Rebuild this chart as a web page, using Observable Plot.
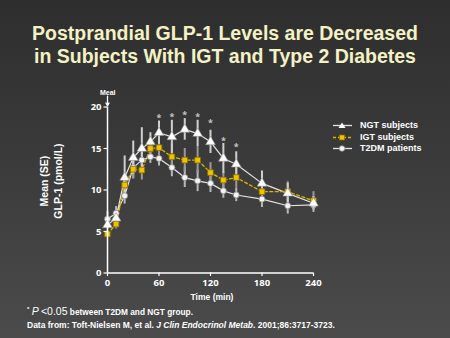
<!DOCTYPE html>
<html>
<head>
<meta charset="utf-8">
<script src="https://cdn.jsdelivr.net/npm/d3@7"></script>
<script src="https://cdn.jsdelivr.net/npm/@observablehq/plot@0.6"></script>
<style>
  html, body { margin: 0; padding: 0; }
  body {
    width: 450px; height: 338px; overflow: hidden; position: relative;
    background: linear-gradient(to bottom, #2e2e2e 0%, #3a3a3a 45%, #4b4b4b 100%);
    font-family: "Liberation Sans", Arial, sans-serif; color: #fff;
  }
  .abs { position: absolute; white-space: nowrap; }
  #title { top: 22px; left: 0; width: 450px; text-align: center; font-weight: bold;
    font-size: 19.5px; line-height: 23px; color: #f4f2c4; }
  #chart { position: absolute; top: 80px; left: 0; }
  #ylab { left: 51px; top: 181px; transform: translate(-50%, -50%) rotate(-90deg);
    text-align: center; font-weight: bold; font-size: 10.5px; line-height: 14px; }
  #xlab { left: 212px; top: 292px; transform: translateX(-50%); font-weight: bold; font-size: 8.5px; }
  #meal { left: 100px; top: 89px; font-weight: bold; font-size: 7px; }
  #legend { left: 333px; top: 120px; font-weight: bold; font-size: 9px; }
  #legend div { height: 11.5px; line-height: 11.5px; display: flex; align-items: center; }
  #legend svg { margin-right: 8px; }
  #foot1 { left: 27px; top: 305px; font-weight: bold; font-size: 8.3px; }
  #foot1 .p { font-style: italic; font-weight: normal; font-size: 10.5px; }
  #foot1 .lt { font-weight: normal; font-size: 10.5px; }
  #foot2 { left: 27px; top: 320px; font-weight: bold; font-size: 8.5px; }
</style>
</head>
<body>
<div id="title" class="abs">Postprandial GLP-1 Levels are Decreased<br>in Subjects With IGT and Type 2 Diabetes</div>
<div id="ylab" class="abs">Mean (SE)<br>GLP-1 (pmol/L)</div>
<div id="xlab" class="abs">Time (min)</div>
<div id="meal" class="abs">Meal</div>
<div id="legend" class="abs"></div>
<div id="foot1" class="abs"><sup style="font-size:6px">*</sup> <span class="p">P</span> <span class="lt">&lt;0.05</span> between T2DM and NGT group.</div>
<div id="foot2" class="abs">Data from: Toft-Nielsen M, et al. <i>J Clin Endocrinol Metab</i>. 2001;86:3717-3723.</div>
<div id="chart"></div>
<script>
// ---- data ----
const times  = [0, 10, 20, 30, 40, 50, 60, 75, 90, 105, 120, 135, 150, 180, 210, 240];
const ngt    = [5.8, 6.6, 11.5, 13.9, 15.0, 15.8, 16.9, 16.4, 17.3, 16.8, 15.8, 13.8, 13.1, 10.8, 9.6, 8.4];
const ngtSE  = [0.5, 0.8, 2.6, 2.0, 2.5, 1.1, 1.4, 2.0, 1.3, 1.6, 1.4, 1.8, 1.5, 1.5, 1.2, 0.8];
const igt    = [4.7, 5.9, 10.6, 12.5, 12.4, 15.0, 15.1, 14.0, 13.6, 13.6, 12.1, 11.2, 11.5, 9.8, 9.8, 8.7];
const igtSE  = [0.4, 0.6, 1.0, 1.2, 1.2, 1.0, 1.2, 1.5, 1.4, 1.6, 1.2, 1.0, 1.3, 1.2, 1.2, 1.1];
const t2dm   = [6.5, 7.2, 9.3, 12.7, 13.6, 14.0, 13.8, 12.7, 11.5, 11.1, 10.8, 9.9, 9.4, 8.9, 8.1, 8.2];
const t2dmSE = [0.9, 0.8, 1.0, 1.3, 1.0, 0.8, 0.9, 1.1, 1.2, 1.3, 1.1, 0.9, 0.8, 1.0, 1.0, 0.9];
const sigTimes = [60, 75, 90, 105, 120, 135, 150];
const sigY     = [18.7, 18.8, 19.0, 18.8, 18.0, 15.9, 15.2];
const xTicks = [0, 60, 120, 180, 240];
const yTicks = [0, 5, 10, 15, 20];
const seriesNames = ["NGT subjects", "IGT subjects", "T2DM patients"];

const mk = (vals, se) => times.map((t, i) => ({t, v: vals[i], lo: vals[i] - se[i], hi: vals[i] + se[i]}));
const dN = mk(ngt, ngtSE), dI = mk(igt, igtSE), dT = mk(t2dm, t2dmSE);
const sig = sigTimes.map((t, i) => ({t, v: sigY[i]}));

const WHITE = "#e4e4e4", YEL = "#e2b400", BAR = "#b8b8b8";

const plot = Plot.plot({
  width: 450, height: 225,
  marginLeft: 107, marginRight: 137, marginTop: 26.5, marginBottom: 32.5,
  style: {background: "transparent", color: "white", overflow: "visible"},
  x: {domain: [0, 240]},
  y: {domain: [0, 20]},
  marks: [
    // error bars
    Plot.ruleX(dT, {x: "t", y1: "lo", y2: "hi", stroke: BAR, strokeWidth: 2}),
    Plot.ruleX(dI, {x: "t", y1: "lo", y2: "hi", stroke: "#9a9a9a", strokeWidth: 2}),
    Plot.ruleX(dN, {x: "t", y1: "lo", y2: "hi", stroke: "#cfcfcf", strokeWidth: 2}),
    // lines
    Plot.line(dT, {x: "t", y: "v", stroke: WHITE, strokeWidth: 1.2}),
    Plot.line(dN, {x: "t", y: "v", stroke: WHITE, strokeWidth: 1.2}),
    Plot.line(dI, {x: "t", y: "v", stroke: YEL, strokeWidth: 1.3, strokeDasharray: "3,2.5"}),
    // markers
    Plot.dot(dT, {x: "t", y: "v", r: 3, fill: "#f4f4f4", stroke: "#8c8c8c", strokeWidth: 0.8}),
    Plot.dot(dI, {x: "t", y: "v", symbol: "square", r: 3.2, fill: "#eec300", stroke: "#8a6c00", strokeWidth: 0.8}),
    Plot.dot(dN, {x: "t", y: "v", symbol: "triangle", r: 3.6, fill: "#ffffff", stroke: "#909090", strokeWidth: 0.6}),
    // significance asterisks
    Plot.text(sig, {x: "t", y: "v", text: () => "*", fill: "#c8c8c8", fontSize: 9, fontWeight: "bold"}),
    // axes
    Plot.axisX(xTicks, {ticks: xTicks, tickSize: 3.5, tickPadding: 3, fontSize: 9.5, fontWeight: "bold", label: null, stroke: "white", strokeWidth: 1.2}),
    Plot.axisY(yTicks, {ticks: yTicks, tickSize: 3.5, tickPadding: 2.5, fontSize: 9.5, fontWeight: "bold", label: null, stroke: "white", strokeWidth: 1.2}),
    Plot.ruleY([0], {x1: 0, x2: 240, stroke: "white", strokeWidth: 1.5}),
    Plot.ruleX([0], {y1: 0, y2: 20, stroke: "white", strokeWidth: 1.5}),
    // meal arrow
    Plot.arrow([0], {x1: 0, x2: 0, y1: 21.3, y2: 20.15, stroke: "white", strokeWidth: 1.3, headLength: 5})
  ]
});
document.getElementById("chart").appendChild(plot);

// legend
const legend = document.getElementById("legend");
const samples = [
  {stroke: WHITE, dash: null, sym: `<polygon points="9,2.5 12.5,8 5.5,8" fill="#fff"/>`},
  {stroke: YEL, dash: "3,2", sym: `<rect x="6.5" y="3" width="5" height="5" fill="#eec300" stroke="#8a6c00" stroke-width="0.7"/>`},
  {stroke: WHITE, dash: null, sym: `<circle cx="9" cy="5.5" r="2.8" fill="#f4f4f4" stroke="#8c8c8c" stroke-width="0.7"/>`}
];
seriesNames.forEach((name, i) => {
  const s = samples[i];
  const row = document.createElement("div");
  row.innerHTML = `<svg width="19" height="11"><line x1="0" x2="19" y1="5.5" y2="5.5" stroke="${s.stroke}" stroke-width="1.3" ${s.dash ? `stroke-dasharray="${s.dash}"` : ""}/>${s.sym}</svg><span>${name}</span>`;
  legend.appendChild(row);
});
</script>
</body>
</html>
